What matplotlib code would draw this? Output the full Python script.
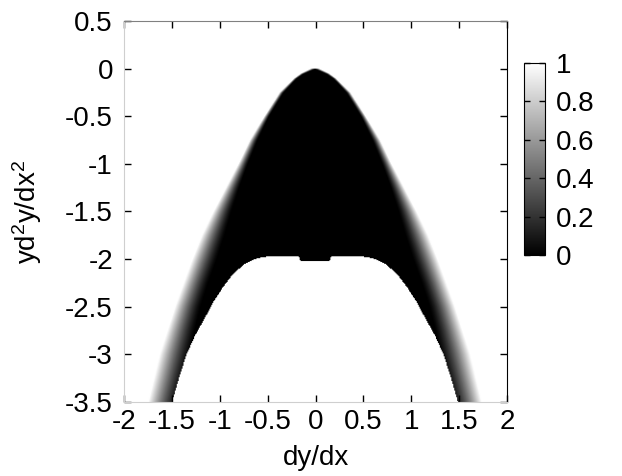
import numpy as np
import matplotlib
matplotlib.use("Agg")
import matplotlib.pyplot as plt

plt.rcParams['font.family'] = ['Liberation Sans', 'DejaVu Sans']
plt.rcParams['axes.unicode_minus'] = False

# ---- data ----
# edges of the dark cap (|dy/dx| at given yd2y/dx2 levels)
edge_y = [0.0, -0.05, -0.1, -0.25, -0.5, -0.75, -1.0, -1.25, -1.5, -1.75,
          -2.0, -2.25, -2.5, -2.75, -3.0, -3.25, -3.5]
inner_x = [0.0, 0.12, 0.19, 0.33, 0.48, 0.60, 0.70, 0.79, 0.87, 0.94,
           1.02, 1.11, 1.19, 1.25, 1.30, 1.36, 1.42]
outer_x = [0.05, 0.15, 0.22, 0.37, 0.53, 0.68, 0.80, 0.93, 1.06, 1.18,
           1.28, 1.37, 1.46, 1.54, 1.62, 1.68, 1.74]
# lower boundary of the black region (white interior below it)
low_x = [0.0, 0.15, 0.17, 0.5, 0.6, 0.67, 0.73, 0.85, 0.97, 1.06, 1.15,
         1.25, 1.34, 1.42, 1.49, 1.6]
low_y = [-2.02, -2.02, -1.975, -1.975, -1.99, -2.02, -2.05, -2.15, -2.31,
         -2.45, -2.62, -2.8, -3.0, -3.25, -3.5, -3.9]

x_ticks = [-2, -1.5, -1, -0.5, 0, 0.5, 1, 1.5, 2]
y_ticks = [0.5, 0, -0.5, -1, -1.5, -2, -2.5, -3, -3.5]
cb_ticks = [0, 0.2, 0.4, 0.6, 0.8, 1]
x_center = -0.01

# ---- build the field ----
nx, ny = 400, 400
xs = np.linspace(-2, 2, nx)
ys = np.linspace(-3.5, 0.5, ny)
X, Y = np.meshgrid(xs, ys)
ax_abs = np.abs(X - x_center)
ey = np.array(edge_y)[::-1]
inn = np.interp(Y, ey, np.array(inner_x)[::-1])
out = np.interp(Y, ey, np.array(outer_x)[::-1])
V = np.clip((ax_abs - inn) / np.maximum(out - inn, 1e-6), 0, 1) ** 1.4
V[Y > 0.0] = 1.0
ylow = np.interp(ax_abs, low_x, low_y)
V[Y < ylow] = 1.0

fig = plt.figure(figsize=(6.22, 4.76), dpi=100)
ax = fig.add_axes([0.1994, 0.1555, 0.6158, 0.8004])
im = ax.imshow(V, extent=[-2, 2, -3.5, 0.5], origin='lower', aspect='auto',
               cmap='gray', vmin=0, vmax=1, interpolation='bilinear')
ax.set_xlim(-2, 2)
ax.set_ylim(-3.5, 0.5)
ax.set_xticks(x_ticks)
ax.set_xticklabels([f'{v:g}' for v in x_ticks])
ax.set_yticks(y_ticks)
ax.set_yticklabels([f'{v:g}' for v in y_ticks])
ax.tick_params(direction='in', length=5, width=1, top=True, right=True,
               labelsize=20, color='black')
ax.tick_params(axis='x', pad=5)
ax.tick_params(axis='y', pad=8)
ax.spines['left'].set_color('#cfcfcf')
ax.spines['bottom'].set_color('#cfcfcf')
ax.spines['top'].set_color('#808080')
ax.spines['right'].set_color('black')
ax.set_xlabel('dy/dx', fontsize=20, labelpad=7)
ax.set_ylabel(r'$\mathregular{yd^2y/dx^2}$', fontsize=20, labelpad=15)

cax = fig.add_axes([0.8424, 0.4643, 0.0338, 0.4034])
cb = fig.colorbar(im, cax=cax, ticks=cb_ticks)
cb.ax.set_yticklabels([f'{v:g}' for v in cb_ticks])
cb.ax.tick_params(direction='in', length=4, width=1, left=True, right=True,
                  labelsize=20, pad=8)
cb.outline.set_edgecolor('black')

fig.savefig('out.png', dpi=100)
